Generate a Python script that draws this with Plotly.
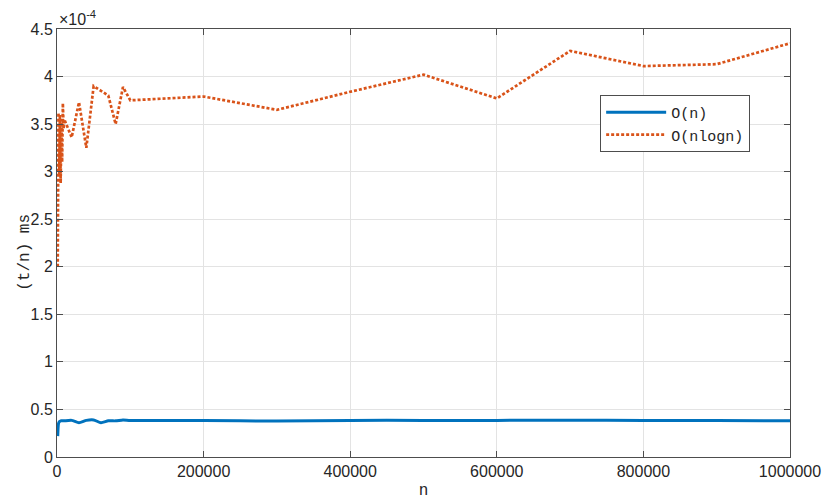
import plotly.graph_objects as go

# problem sizes n
n_vals = [1000, 2000, 3000, 4000, 5000, 6000, 7000, 8000, 9000,
          10000, 20000, 30000, 40000, 50000, 60000, 70000, 80000, 90000,
          100000, 200000, 300000, 400000, 500000, 600000, 700000, 800000, 900000, 1000000]

# (t/n) in units of 1e-4 ms
on_vals = [0.22, 0.35, 0.37, 0.375, 0.38, 0.38, 0.38, 0.38, 0.38,
           0.38, 0.385, 0.36, 0.385, 0.39, 0.36, 0.38, 0.38, 0.39,
           0.385, 0.383, 0.378, 0.385, 0.385, 0.385, 0.387, 0.383, 0.383, 0.382]

onlogn_vals = [2.0, 3.62, 2.95, 3.6, 2.88, 3.55, 3.1, 3.72, 3.45,
               3.55, 3.36, 3.73, 3.25, 3.90, 3.85, 3.80, 3.50, 3.89,
               3.75, 3.79, 3.65, 3.84, 4.02, 3.77, 4.27, 4.11, 4.13, 4.35]

x_ticks = [0, 200000, 400000, 600000, 800000, 1000000]
y_ticks = [0, 0.5, 1, 1.5, 2, 2.5, 3, 3.5, 4, 4.5]

mono = "Liberation Mono"
sans = "Liberation Sans"

fig = go.Figure()
fig.add_trace(go.Scatter(x=n_vals, y=on_vals, mode="lines", name="O(n)",
                         line=dict(color="#0072BD", width=3, shape="spline", smoothing=0.6)))
fig.add_trace(go.Scatter(x=n_vals, y=onlogn_vals, mode="lines", name="O(nlogn)",
                         line=dict(color="#D95319", width=2.7, dash="3px,2px")))

axis_common = dict(showline=True, linecolor="#4d4d4d", linewidth=1, mirror="ticks",
                   ticks="inside", ticklen=6, tickcolor="#4d4d4d",
                   showgrid=True, gridcolor="#e3e3e3", gridwidth=1, zeroline=False,
                   automargin=False,
                   tickfont=dict(family=sans, size=16, color="#262626"))

fig.update_xaxes(range=[0, 1000000], tickvals=x_ticks,
                 ticktext=[str(v) for v in x_ticks],
                 title=dict(text="n", font=dict(family=mono, size=16, color="#262626"), standoff=4),
                 **axis_common)
fig.update_yaxes(range=[0, 4.5], tickvals=y_ticks,
                 ticktext=["0", "0.5", "1", "1.5", "2", "2.5", "3", "3.5", "4", "4.5"],
                 **axis_common)

fig.add_annotation(x=-0.044, y=0.479, xref="paper", yref="paper", xanchor="center", yanchor="middle",
                   text="(t/n) ms", textangle=-90, showarrow=False,
                   font=dict(family=mono, size=16, color="#262626"))

fig.add_annotation(x=0, y=1, xref="paper", yref="paper", xanchor="left", yanchor="bottom",
                   text="×10<sup>-4</sup>", showarrow=False, yshift=-1,
                   font=dict(family=sans, size=16, color="#262626"))

fig.update_layout(
    width=830, height=503,
    margin=dict(l=57, r=40, t=29, b=46),
    paper_bgcolor="white", plot_bgcolor="white",
    legend=dict(x=0.741, y=0.846, xanchor="left", yanchor="top",
                bgcolor="white", bordercolor="#4d4d4d", borderwidth=1,
                font=dict(family=mono, size=15, color="#262626"),
                itemwidth=60, tracegroupgap=0),
    showlegend=True,
)

fig.write_html("out.html", config={"displayModeBar": False},
               post_script="document.body.style.margin='0';")
